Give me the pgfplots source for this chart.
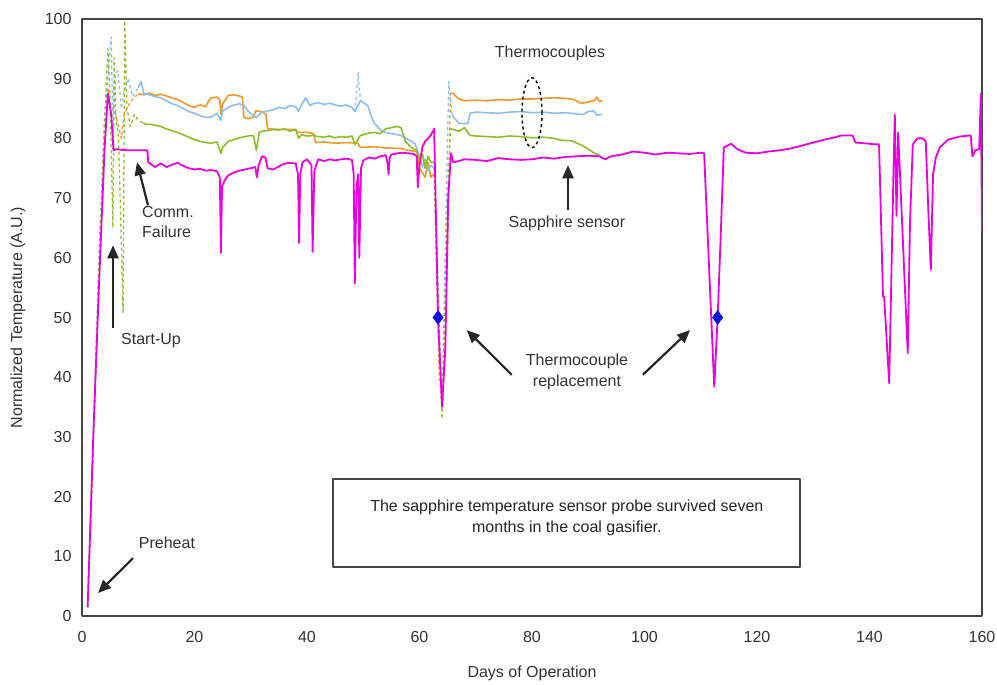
\documentclass[border=0pt]{standalone}
\usepackage{fontspec}
\setmainfont{Liberation Sans}
\usepackage{pgfplots}
\pgfplotsset{compat=1.18}
\usetikzlibrary{arrows.meta}
\definecolor{tcOrange}{RGB}{242,150,40}
\definecolor{tcBlue}{RGB}{140,190,240}
\definecolor{tcGreen}{RGB}{140,190,40}
\definecolor{sapphire}{RGB}{232,0,222}
\definecolor{diam}{RGB}{10,20,220}
\definecolor{frameGray}{RGB}{70,70,70}
\definecolor{txtGray}{RGB}{50,50,50}

\newcommand{\lbl}{\fontsize{16}{21}\selectfont}

\begin{document}
\begin{tikzpicture}
\begin{axis}[scale only axis,width=900pt,height=597pt,
  xmin=0,xmax=160,ymin=0,ymax=100,
  xtick={0,20,...,160},ytick={0,10,...,100},
  major tick length=0pt,
  axis line style={draw=frameGray,line width=2pt},
  tick label style={font=\lbl,text=txtGray},
  /pgf/number format/assume math mode=true,
  xticklabel style={yshift=-12pt},yticklabel style={xshift=-7pt},
  xlabel={Days of Operation},ylabel={Normalized Temperature (A.U.)},
  every axis x label/.style={at={(axis description cs:0.5,-0.0955)},anchor=center,font=\lbl,text=txtGray},
  every axis y label/.style={at={(axis description cs:-0.0711,0.5)},rotate=90,anchor=center,font=\lbl,text=txtGray},
  line join=round]

% thermocouples, start-up transients (dashed)
\addplot[tcOrange,line width=1.3pt,dashed] coordinates {(1,1.5) (2,29) (3,57) (4,80) (4.6,88.5) (5,86) (6,84) (7,80) (7.5,84) (8.5,86) (10,87.5)};
\addplot[tcBlue,line width=1.3pt,dashed] coordinates {(1,1.5) (2,30) (3,60) (4,84) (4.6,90) (5.2,97) (5.5,80) (6,91) (6.4,91.3) (7,85) (7.5,88) (8.2,90) (9,87) (10,88.5)};
\addplot[tcGreen,line width=1.3pt,dashed] coordinates {(1,1.5) (2,28) (3,58) (4,82) (4.6,95) (5,86) (5.5,65) (5.7,93.5) (6,84) (6.5,80) (7.3,50.7) (7.6,99.7) (8,85) (8.6,82) (9.3,84) (10,83) (10.9,82.6)};

% thermocouples, replacement transients (dashed)
\addplot[tcOrange,line width=1.3pt,dashed] coordinates {(62.6,74) (63.5,40) (64.2,36) (65,60) (65.5,87.6)};
\addplot[tcBlue,line width=1.3pt,dashed] coordinates {(62.6,75) (64,35) (65.2,89.5) (65.8,84)};
\addplot[tcGreen,line width=1.3pt,dashed] coordinates {(62.6,76) (64,33) (65,70) (65.5,81.6)};
\addplot[tcBlue,line width=1.3pt,dashed] coordinates {(48.5,84.5) (49.1,91) (49.5,86.3)};

% thermocouple 1 (orange)
\addplot[tcOrange,line width=1.6pt] coordinates {
(10,87.5) (11,87.3) (12,87.6) (13,87.2) (14,87.4) (15,87.1) (16,86.8) (17,86.5) (18,86) (19,85.5) (20,85.2) (21,85.6) (22,85.3) (22.5,86.2) (23,86.8) (24,86.9) (24.5,86.5) (24.7,84) (25,85.8) (26,87.2) (27,87.3) (28,87.1) (28.5,86.9) (28.8,83.5) (29.5,83.3) (30.5,83.6) (30.9,84.6) (32,84.5) (32.7,84) (33,81.6) (35,81.5) (37.8,81.5) (38.5,81) (40,81) (41.2,80.8) (41.5,79.3) (43,79.4) (45,79.2) (47,79.3) (49,79.2) (49.5,78.5) (52,78.6) (54,78.4) (56.7,78.3) (58,78) (59.5,77.8) (60,75) (61,73.5) (61.5,76) (62,73.5) (62.6,74)};
\addplot[tcOrange,line width=1.6pt] coordinates {
(65.5,87.6) (66,87.5) (67,86.6) (68,86.3) (70,86.4) (72,86.3) (74,86.5) (76,86.4) (78,86.6) (80,86.6) (82,86.7) (84,86.8) (86,86.7) (87.5,86.5) (88.4,86) (89,85.9) (90,86.1) (91,86.3) (91.5,86.9) (92,86.2) (92.5,86.3)};

% thermocouple 2 (light blue)
\addplot[tcBlue,line width=1.6pt] coordinates {
(10,88.5) (10.5,89.5) (11,87.5) (12,87.3) (13,87) (14,86.8) (15,86.3) (16,85.8) (17,85.5) (18,85) (19,84.5) (20,84.2) (21,83.8) (22,83.5) (23,83.6) (24,84.2) (24.7,83) (25,84.6) (26,85.2) (27,85.6) (28,85.8) (28.8,85.5) (29.5,84.6) (30.5,83.8) (31,83.5) (32,84.4) (33,84.6) (34,84.8) (35,85.2) (36,85) (37,85.5) (38,85.3) (38.5,84.5) (39,85.6) (39.8,86.8) (40.5,85.5) (41,85.8) (42,86) (43,85.7) (44,85.9) (45,85.6) (46,85.4) (47,85.6) (48,85.2) (48.5,84.5) (49.5,86.3) (50,86) (50.8,85.5) (51.5,83.5) (52,82.5) (53.2,81.3) (54,81) (55,80.8) (56.7,80.5) (58,79.8) (59.2,79.1) (60,77) (60.5,75.2) (61,76.5) (61.5,74.6) (62,75.5) (62.6,75)};
\addplot[tcBlue,line width=1.6pt] coordinates {
(65.8,84) (66.1,83.5) (67,82.5) (68.6,82.5) (69,84.2) (70,84.4) (72,84.3) (74,84.2) (76,84.4) (78,84.5) (80,84.3) (82,84.4) (84,84.2) (86,84.3) (88,84.1) (89,84) (90,84.5) (91,84.6) (91.5,83.9) (92.5,84)};

% thermocouple 3 (green)
\addplot[tcGreen,line width=1.6pt] coordinates {
(10.9,82.6) (11.5,82.3) (12,82.4) (13,82.2) (14,82) (15,81.6) (16,81.3) (17,81) (18,80.6) (19,80.2) (20,79.8) (21,79.5) (22,79.3) (23,79.2) (24,79.4) (24.7,77.5) (25,78.5) (26,79.5) (27,79.8) (28,80.1) (29,80.3) (30,80.5) (30.5,80.4) (31,78) (31.5,81) (32,81.2) (33,81.3) (34,81.5) (35,81.4) (36,81.6) (37,81.2) (38,81.5) (38.5,80) (39,80.6) (40,80.4) (41,80.5) (42,80.3) (43,80.2) (44,80.4) (45,80.1) (46,80.3) (47,80.2) (48,80.4) (48.5,79) (49.5,80.5) (50,80.6) (51,80.9) (52,81) (53,80.8) (54,81.6) (55,81.8) (56,82) (56.7,81.8) (57,81) (57.5,79.5) (58.5,78.5) (59.5,78) (60,76.5) (60.5,77.5) (61,75) (61.5,77) (62,76) (62.6,76)};
\addplot[tcGreen,line width=1.6pt] coordinates {
(65.5,81.6) (66,81.5) (67,81.2) (68,81.8) (68.6,81) (69,80.5) (70,80.4) (72,80.3) (74,80.2) (76,80.4) (78,80.3) (80,80.1) (82,80.2) (84,80) (85,79.7) (87,79.6) (88,79.2) (89,78.8) (90,78.2) (91.1,77.5) (92,77.2)};

% sapphire sensor
\addplot[sapphire,line width=1.8pt] coordinates {
(1,1.5) (2,30) (3,55) (4,78) (4.6,87.5) (5.2,84) (5.6,78) (6,78.2) (8,78) (10,78) (11.6,78) (11.8,76) (13,75.2) (14,75.8) (15,75.2) (16,75.6) (17,75.9) (18,75.4) (19,75) (20,74.8) (21,74.9) (22,74.6) (23,74.7) (24,74.5) (24.5,73.5) (24.7,60.8) (24.9,72) (25.5,73.2) (26,73.8) (27,74.3) (28,74.6) (29,74.8) (30,75) (30.8,75.2) (31.1,73.5) (31.4,75.5) (32,77) (32.6,76.8) (33,75) (34,74.8) (35,75.3) (36,75.8) (37,75.9) (38,75.8) (38.4,74) (38.6,62.5) (38.8,74) (39.2,76) (40,76.5) (40.8,75.5) (41,61) (41.3,74.5) (41.8,76) (42,76.5) (43,76.2) (44,76.5) (45,76.3) (46,76.5) (47,76.6) (48,76.4) (48.3,74) (48.5,55.7) (48.8,72) (49.1,74) (49.3,60) (49.6,75) (50,76.3) (51,76.8) (52,76.6) (53,77) (54,77.2) (54.3,76) (54.5,74) (54.7,76.8) (55,77.3) (56,77.5) (57,77.6) (58,77.5) (59,77.4) (59.5,77) (59.7,71.8) (60,75.5) (60.5,78.5) (61,79.5) (62,80.5) (62.6,81.6) (63.3,50) (64,35) (64.6,45) (65.1,70) (65.6,77.5) (66,76) (67,76.2) (68,76.5) (70,76.4) (72,76.2) (74,76.7) (76,76.5) (78,76.4) (80,76.5) (82,76.8) (84,76.6) (86,76.9) (88,77) (90,77.1) (92,77) (93,76.5) (94,77) (96,77.3) (98,77.8) (100,77.6) (102,77.3) (104,77.6) (106,77.5) (108,77.4) (110,77.6) (110.6,77.5) (112.4,38.4) (113,50) (113.5,62.4) (114.1,78.5) (115.4,79.1) (116.5,78.2) (118,77.6) (120,77.5) (122,77.8) (124,78) (126,78.3) (128,78.8) (130,79.3) (132,79.8) (134,80.2) (135,80.5) (137,80.5) (137.5,79.3) (139,79.2) (141,79) (141.7,79) (142.4,53.5) (142.6,53.5) (143.5,39) (144.3,76) (144.5,84) (144.8,67) (145.1,81) (146.8,44) (147.2,66) (147.7,79) (148.5,80) (149.5,80) (150,79.5) (150.5,67) (150.9,58) (151.3,74) (151.8,76.8) (152.5,78.5) (154,79.8) (156,80.3) (158,80.5) (158.3,77) (158.8,78) (159.5,78.2) (159.8,87.5) (160,64.5)};

% replacement markers
\addplot[only marks,mark=diamond*,mark size=7pt,color=diam] coordinates {(63.3,50) (113,50)};

% annotations
\tikzset{ann/.style={-{Triangle[length=13pt,width=11pt]},line width=2.2pt,black!85},
         atxt/.style={font=\lbl,text=txtGray,inner sep=0pt}}
\draw[ann] (axis cs:5.51,48.2) -- (axis cs:5.51,62.1);
\node[atxt,anchor=center] at (axis cs:12.27,46.2) {Start-Up};
\draw[ann] (axis cs:11.73,68.8) -- (axis cs:9.78,76.0);
\node[atxt,anchor=west] at (axis cs:10.67,67.7) {Comm.};
\node[atxt,anchor=west] at (axis cs:10.67,64.3) {Failure};
\draw[ann] (axis cs:9.07,9.7) -- (axis cs:2.84,3.85);
\node[atxt] at (axis cs:15.1,12.2) {Preheat};
\node[atxt] at (axis cs:83.2,94.3) {Thermocouples};
\draw[black,dashed,line width=1.4pt] (axis cs:80,84.3) ellipse [x radius=10pt,y radius=35pt];
\draw[ann] (axis cs:86.4,68.0) -- (axis cs:86.4,75.5);
\node[atxt] at (axis cs:86.2,65.8) {Sapphire sensor};
\draw[ann] (axis cs:76.4,40.4) -- (axis cs:68.4,47.9);
\draw[ann] (axis cs:99.7,40.4) -- (axis cs:108.1,47.9);
\node[atxt,align=center] at (axis cs:88.0,40.9) {Thermocouple\\replacement};
\draw[frameGray,line width=2pt,fill=white] (axis cs:44.6,22.9) rectangle (axis cs:127.6,8.2);
\node[atxt,align=center,text=black!85] at (axis cs:86.2,16.4) {The sapphire temperature sensor probe survived seven\\months in the coal gasifier.};
\end{axis}
\pgfresetboundingbox
\path[use as bounding box] (-82pt,-69pt) rectangle (915pt,616pt);
\end{tikzpicture}
\end{document}
